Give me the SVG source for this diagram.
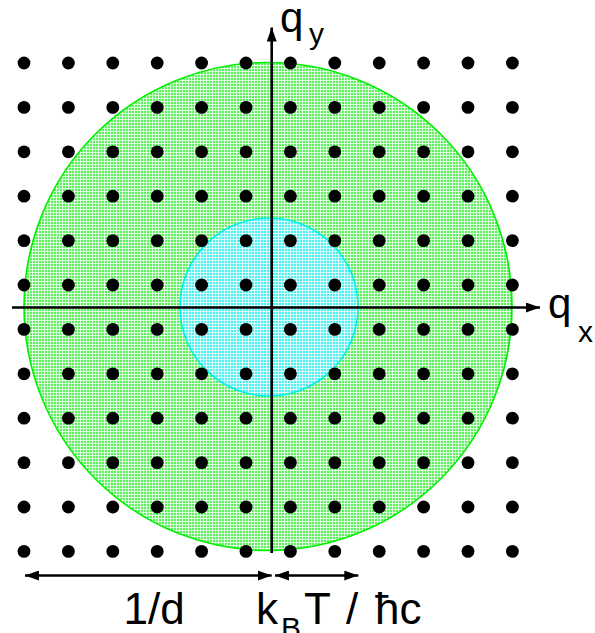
<svg xmlns="http://www.w3.org/2000/svg" xmlns:xlink="http://www.w3.org/1999/xlink" width="595" height="633" viewBox="0 0 595 633">
  <style>
    .lbl { font-family: "Liberation Sans", Arial, sans-serif; fill: #000; }
    .axis { stroke: #000; stroke-width: 2.6; fill: none; }
    .dot { fill: #000; }
  </style>
  <defs>
    <pattern id="gtex" width="3" height="3" patternUnits="userSpaceOnUse">
      <rect width="3" height="3" fill="#5cf05c"/>
      <rect x="2" y="0" width="1" height="3" fill="#ffffff" opacity="0.75"/>
      <rect x="0" y="2" width="3" height="1" fill="#ffffff" opacity="0.75"/>
    </pattern>
    <pattern id="ctex" width="3" height="3" patternUnits="userSpaceOnUse">
      <rect width="3" height="3" fill="#4ff0f0"/>
      <rect x="2" y="0" width="1" height="3" fill="#ffffff" opacity="0.75"/>
      <rect x="0" y="2" width="3" height="1" fill="#ffffff" opacity="0.75"/>
    </pattern>
    <marker id="arr" markerUnits="userSpaceOnUse" markerWidth="14" markerHeight="10" refX="14" refY="5" orient="auto-start-reverse" viewBox="0 0 14 10">
      <path d="M0,0 L14,5 L0,10 z" fill="#000"/>
    </marker>
    <g id="row">
      <circle class="dot" cx="24" cy="0" r="6.4"/>
      <circle class="dot" cx="68.4" cy="0" r="6.4"/>
      <circle class="dot" cx="112.8" cy="0" r="6.4"/>
      <circle class="dot" cx="157.2" cy="0" r="6.4"/>
      <circle class="dot" cx="201.6" cy="0" r="6.4"/>
      <circle class="dot" cx="246" cy="0" r="6.4"/>
      <circle class="dot" cx="290.4" cy="0" r="6.4"/>
      <circle class="dot" cx="334.8" cy="0" r="6.4"/>
      <circle class="dot" cx="379.2" cy="0" r="6.4"/>
      <circle class="dot" cx="423.6" cy="0" r="6.4"/>
      <circle class="dot" cx="468" cy="0" r="6.4"/>
      <circle class="dot" cx="512.4" cy="0" r="6.4"/>
    </g>
  </defs>

  <g id="outer-circle">
    <circle cx="268" cy="306.5" r="244" fill="url(#gtex)" stroke="#00f000" stroke-width="1.6"/>
  </g>
  <g id="inner-circle">
    <circle cx="269" cy="307" r="89" fill="url(#ctex)" stroke="#00f0f0" stroke-width="1.6"/>
  </g>

  <g id="lattice">
    <use xlink:href="#row" y="63"/>
    <use xlink:href="#row" y="107.4"/>
    <use xlink:href="#row" y="151.8"/>
    <use xlink:href="#row" y="196.2"/>
    <use xlink:href="#row" y="240.6"/>
    <use xlink:href="#row" y="285"/>
    <use xlink:href="#row" y="329.4"/>
    <use xlink:href="#row" y="373.8"/>
    <use xlink:href="#row" y="418.2"/>
    <use xlink:href="#row" y="462.6"/>
    <use xlink:href="#row" y="507"/>
    <use xlink:href="#row" y="551.4"/>
  </g>

  <g id="connectors">
    <line class="axis" x1="12" y1="307.5" x2="540" y2="307.5" marker-end="url(#arr)"/>
    <line class="axis" x1="271.7" y1="553" x2="271.7" y2="27.5" marker-end="url(#arr)"/>
    <line class="axis" x1="25" y1="575.5" x2="271.7" y2="575.5" marker-start="url(#arr)" marker-end="url(#arr)"/>
    <line class="axis" x1="275" y1="575.5" x2="358.3" y2="575.5" marker-start="url(#arr)" marker-end="url(#arr)"/>
  </g>

  <g id="labels">
    <text class="lbl" x="280" y="32" font-size="42">q</text>
    <text class="lbl" x="309" y="43.5" font-size="30">y</text>
    <text class="lbl" x="548" y="318" font-size="42">q</text>
    <text class="lbl" x="578" y="342" font-size="30">x</text>
    <text class="lbl" x="123.5" y="624" font-size="44">1/d</text>
    <text class="lbl" x="256" y="624" font-size="44">k</text>
    <text class="lbl" x="281" y="638" font-size="30">B</text>
    <text class="lbl" x="304" y="624" font-size="44">T</text>
    <text class="lbl" x="346" y="624" font-size="44">/</text>
    <text class="lbl" x="375" y="624" font-size="44">ħc</text>
  </g>
</svg>
